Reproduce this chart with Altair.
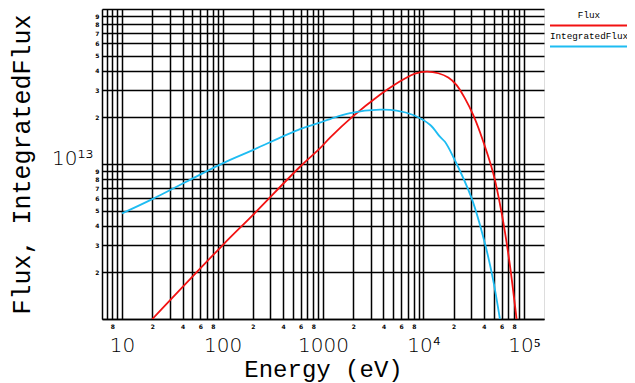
import altair as alt
import pandas as pd

# ---- data ----
flux_energy = [20, 100, 200, 590, 930, 1175, 1930, 3690, 5200, 6550, 8220,
               10770, 14060, 17660, 21380, 25880, 31330, 36480, 49550, 60120,
               71450, 84530]
flux_values = [1.0e12, 2.99e12, 4.68e12, 9.6e12, 1.26e13, 1.48e13, 2.0e13,
               2.80e13, 3.26e13, 3.56e13, 3.83e13, 3.94e13, 3.85e13, 3.61e13,
               3.23e13, 2.65e13, 2.07e13, 1.61e13, 8.7e12, 4.8e12, 2.39e12,
               1.0e12]

intflux_energy = [10, 20, 100, 200, 590, 930, 1175, 1860, 3690, 5400, 7910,
                  11610, 14590, 16370, 19820, 30200, 40930, 49550, 57680]
intflux_values = [4.8e12, 5.93e12, 1.01e13, 1.23e13, 1.68e13, 1.85e13, 1.95e13,
                  2.13e13, 2.24e13, 2.21e13, 2.07e13, 1.79e13, 1.50e13, 1.39e13,
                  1.11e13, 6.0e12, 3.07e12, 1.77e12, 1.0e12]

series_names = ["Flux", "IntegratedFlux"]
series_colors = ["#f21212", "#1ebcf2"]

x_domain = [6.30957, 158489.3]
y_domain = [1e12, 1e14]

x_tick_values = [7, 8, 9,
                 10, 20, 30, 40, 50, 60, 70, 80, 90,
                 100, 200, 300, 400, 500, 600, 700, 800, 900,
                 1000, 2000, 3000, 4000, 5000, 6000, 7000, 8000, 9000,
                 10000, 20000, 30000, 40000, 50000, 60000, 70000, 80000, 90000,
                 100000]
x_tick_labels = ["", "8", "",
                 "10", "2", "", "4", "", "6", "", "8", "",
                 "100", "2", "", "4", "", "6", "", "8", "",
                 "1000", "2", "", "4", "", "6", "", "8", "",
                 "10⁴", "2", "", "4", "", "6", "", "8", "",
                 "10⁵"]
x_major = [10, 100, 1000, 10000, 100000]

y_tick_values = [1e12, 2e12, 3e12, 4e12, 5e12, 6e12, 7e12, 8e12, 9e12,
                 1e13, 2e13, 3e13, 4e13, 5e13, 6e13, 7e13, 8e13, 9e13, 1e14]
y_tick_labels = ["", "2", "3", "4", "5", "6", "7", "8", "9",
                 "10¹³", "2", "3", "4", "5", "6", "7", "8", "9", ""]
y_major = [1e13]

# ---- build table ----
df = pd.concat([
    pd.DataFrame({"energy": flux_energy, "value": flux_values, "series": "Flux"}),
    pd.DataFrame({"energy": intflux_energy, "value": intflux_values, "series": "IntegratedFlux"}),
])


def js_list(vals):
    return "[" + ",".join(repr(v) if isinstance(v, str) else format(v, ".10g") for v in vals) + "]"


def label_expr(values, labels):
    return f"{js_list(labels)}[indexof({js_list(values)}, datum.value)]"


x_major_test = f"indexof({js_list(x_major)}, datum.value) >= 0"
y_major_test = f"indexof({js_list(y_major)}, datum.value) >= 0"

FONT = "DejaVu Sans"
MONO = "Liberation Mono"

x_axis = alt.Axis(
    values=x_tick_values,
    labelExpr=label_expr(x_tick_values, x_tick_labels),
    grid=True, gridColor="black", gridWidth=1.5, gridOpacity=1,
    ticks=False, domainColor="black", domainWidth=1.5,
    labelFont=FONT, labelColor="black",
    labelFontSize={"condition": {"test": x_major_test, "value": 20}, "value": 6},
    labelFontWeight={"condition": {"test": x_major_test, "value": 200}, "value": "bold"},
    labelPadding={"condition": {"test": x_major_test, "value": 16}, "value": 4},
    labelBaseline="top",
    labelOverlap=False, labelFlush=False,
    title="Energy (eV)", titleFont=MONO, titleFontSize=24, titleFontWeight="normal",
    titleColor="black", titlePadding=2,
)

y_axis = alt.Axis(
    values=y_tick_values,
    labelExpr=label_expr(y_tick_values, y_tick_labels),
    grid=True, gridColor="black", gridWidth=1.5, gridOpacity=1,
    ticks=False, domainColor="black", domainWidth=1.5,
    labelFont=FONT, labelColor="black",
    labelFontSize={"condition": {"test": y_major_test, "value": 20}, "value": 6},
    labelFontWeight={"condition": {"test": y_major_test, "value": 200}, "value": "bold"},
    labelPadding={"condition": {"test": y_major_test, "value": 9}, "value": 3},
    labelBaseline={"condition": {"test": y_major_test, "value": "alphabetic"}, "value": "middle"},
    labelOverlap=False, labelFlush=False,
    title="Flux, IntegratedFlux", titleFont=MONO, titleFontSize=25, titleFontWeight="normal",
    titleColor="black", titlePadding=17,
)

legend = alt.Legend(
    orient="none", legendX=447, legendY=0,
    title=None,
    symbolType="M-1,0.154L1,0.154",
    symbolSize=6084,
    symbolStrokeWidth=2,
    clipHeight=21,
    labelAlign="center",
    labelBaseline="bottom",
    labelOffset={"expr": "-40"},
    labelFont=MONO, labelFontSize=9.3, labelColor="black",
    rowPadding=0,
    padding=0,
)

chart = alt.Chart(df).mark_line(clip=True, strokeWidth=1.8, interpolate="catmull-rom").encode(
    x=alt.X("energy:Q", scale=alt.Scale(type="log", domain=x_domain, nice=False), axis=x_axis),
    y=alt.Y("value:Q", scale=alt.Scale(type="log", domain=y_domain, nice=False), axis=y_axis),
    color=alt.Color("series:N", scale=alt.Scale(domain=series_names, range=series_colors), legend=legend),
    detail="series:N",
).properties(
    width=442, height=310,
    padding={"left": 94, "top": 1, "right": 83, "bottom": 64},
    autosize=alt.AutoSizeParams(type="none"),
).configure_view(
    stroke="black", strokeWidth=1.5,
).configure(background="white")

chart.save("out.html", embed_options={"renderer": "svg", "actions": False})
